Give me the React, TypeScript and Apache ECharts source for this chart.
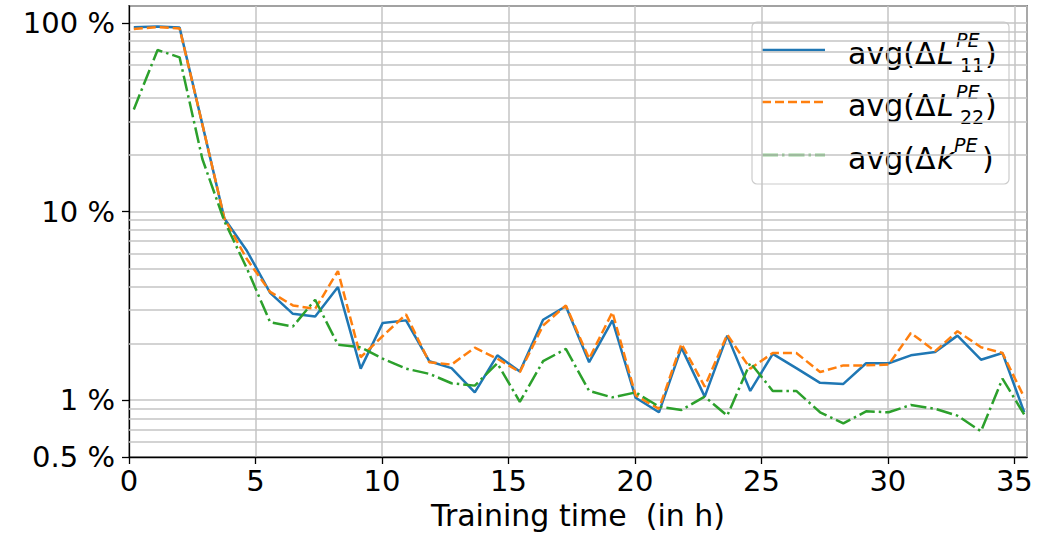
import React, { useEffect, useRef } from "react";
import * as echarts from "echarts";

// Training time of each evaluation (hours)
const hours = [
  0.19, 1.13, 2.0, 2.9, 3.77, 4.66, 5.58, 6.48, 7.36, 8.26, 9.16, 10.03, 10.95, 11.87,
  12.75, 13.67, 14.56, 15.45, 16.37, 17.27, 18.19, 19.11, 20.03, 20.95, 21.84, 22.76,
  23.65, 24.56, 25.45, 26.38, 27.32, 28.24, 29.14, 30.03, 30.91, 31.87, 32.75, 33.68,
  34.53, 35.39,
];

// Average relative errors in percent
const avgL11 = [
  94.9, 95.7, 94.5, 29, 9.2, 6.2, 3.71, 2.87, 2.78, 3.98, 1.47, 2.57, 2.65, 1.61, 1.48,
  1.1, 1.73, 1.42, 2.67, 3.15, 1.59, 2.65, 1.03, 0.863, 1.9, 1.045, 2.2, 1.12, 1.76, 1.48,
  1.236, 1.22, 1.57, 1.57, 1.73, 1.8, 2.2, 1.64, 1.78, 0.863,
];
const avgL22 = [
  93, 95, 93.5, 29, 9.2, 5.6, 3.75, 3.18, 3.05, 4.84, 1.69, 2.19, 2.85, 1.59, 1.545, 1.9,
  1.66, 1.41, 2.49, 3.18, 1.66, 2.93, 1.06, 0.9, 1.99, 1.18, 2.23, 1.47, 1.78, 1.78, 1.41,
  1.53, 1.53, 1.545, 2.27, 1.82, 2.32, 1.91, 1.78, 1.035,
];
const avgK = [
  34.8, 71.9, 65.7, 19, 8.9, 5.0, 2.59, 2.46, 3.41, 1.97, 1.91, 1.66, 1.47, 1.38, 1.23,
  1.195, 1.57, 0.98, 1.61, 1.87, 1.12, 1.035, 1.1, 0.925, 0.888, 1.045, 0.828, 1.58, 1.12,
  1.12, 0.863, 0.754, 0.873, 0.863, 0.944, 0.9, 0.828, 0.684, 1.3, 0.84,
];

const xTicks = [0, 5, 10, 15, 20, 25, 30, 35];
const yTickLabels = [0.5, 1, 10, 100];
const yMinorGrid = [0.6, 0.7, 0.8, 0.9, 2, 3, 4, 5, 6, 7, 8, 9, 20, 30, 40, 50, 60, 70, 80, 90];

const BLUE = "#1f77b4";
const ORANGE = "#ff7f0e";
const GREEN = "#2ca02c";
const FONT = "'DejaVu Sans', sans-serif";
const GRID_COLOR = "#c4c4c4";

type Row = { color: string; dash: number[] | "solid"; base: string; sup: string; sub?: string; y: number };

const legendRows: Row[] = [
  { color: BLUE, dash: "solid", base: "L", sup: "PE", sub: "11", y: 50 },
  { color: ORANGE, dash: [9, 4], base: "L", sup: "PE", sub: "22", y: 102 },
  { color: GREEN, dash: [16, 4, 2.5, 4], base: "k", sup: "PE", y: 155 },
];

function legendGraphic() {
  const children: any[] = [
    {
      type: "rect",
      shape: { x: 752, y: 22, width: 257, height: 162, r: 5 },
      style: { fill: "rgba(255,255,255,0.85)", stroke: "#cccccc", lineWidth: 1.2 },
    },
  ];
  const txt = (x: number, y: number, text: string, size: number, italic = false) => ({
    type: "text",
    x,
    y,
    style: {
      text,
      fill: "#000",
      fontSize: size,
      fontFamily: FONT,
      fontStyle: italic ? "italic" : "normal",
      verticalAlign: "middle",
      align: "left",
    },
  });
  legendRows.forEach((r) => {
    children.push({
      type: "line",
      shape: { x1: 762, y1: r.y, x2: 825, y2: r.y },
      style: { stroke: r.color, lineWidth: 2.5, lineDash: r.dash },
    });
    children.push(txt(848, r.y + 3, "avg(Δ", 30));
    children.push(txt(937, r.y + 3, r.base, 30, true));
    const supX = r.base === "L" ? 956 : 954;
    children.push(txt(supX, r.y - 10, r.sup, 19, true));
    if (r.sub) children.push(txt(960, r.y + 15, r.sub, 19));
    children.push(txt(r.sub ? 985 : 982, r.y + 3, ")", 30));
  });
  return [{ type: "group", children }];
}

export default function App() {
  const ref = useRef<HTMLDivElement>(null);

  useEffect(() => {
    if (!ref.current) return;
    const chart = echarts.init(ref.current, undefined, { renderer: "svg" });

    const lineSeries = (name: string, vals: number[], color: string, dash: any) => ({
      name,
      type: "line",
      data: hours.map((h, i) => [h, vals[i]]),
      showSymbol: false,
      symbol: "none",
      z: 5,
      lineStyle: { color, width: 2.5, type: dash },
      itemStyle: { color },
    });

    chart.setOption({
      animation: false,
      backgroundColor: "#ffffff",
      textStyle: { fontFamily: FONT },
      grid: {
        left: 129,
        right: 29,
        top: 6,
        bottom: 80,
        show: true,
        borderColor: "#000",
        borderWidth: 1.3,
        backgroundColor: "transparent",
      },
      xAxis: {
        type: "value",
        min: 0,
        max: 35.5,
        interval: 5,
        name: "Training time  (in h)",
        nameLocation: "middle",
        nameGap: 43,
        nameTextStyle: { fontSize: 30, color: "#000", fontFamily: FONT },
        axisLine: { show: true, lineStyle: { color: "#000", width: 1.3 } },
        axisTick: { show: true, length: 7, lineStyle: { color: "#000", width: 1.3 } },
        axisLabel: {
          fontSize: 29,
          color: "#000",
          fontFamily: FONT,
          margin: 9,
          showMaxLabel: false,
          formatter: (v: number) => (xTicks.includes(v) ? String(v) : ""),
        },
        splitLine: { show: true, lineStyle: { color: GRID_COLOR, width: 1.5 } },
      },
      yAxis: {
        type: "log",
        logBase: 10,
        min: 0.5,
        max: 123,
        axisLine: { show: true, lineStyle: { color: "#000", width: 1.3 } },
        axisTick: { show: true, length: 7, lineStyle: { color: "#000", width: 1.3 } },
        axisLabel: {
          fontSize: 29,
          color: "#000",
          fontFamily: FONT,
          margin: 14,
          showMaxLabel: false,
          formatter: (v: number) => {
            const hit = yTickLabels.find((t) => Math.abs(t - v) / t < 1e-6);
            return hit !== undefined ? `${hit} %` : "";
          },
        },
        splitLine: { show: true, lineStyle: { color: GRID_COLOR, width: 1.5 } },
      },
      series: [
        {
          name: "minor-grid",
          type: "line",
          data: [],
          z: 1,
          silent: true,
          markLine: {
            silent: true,
            symbol: ["none", "none"],
            label: { show: false },
            lineStyle: { color: GRID_COLOR, width: 1.5, type: "solid" },
            emphasis: { disabled: true },
            data: yMinorGrid.map((v) => ({ yAxis: v })),
          },
        },
        lineSeries("avg(ΔL11)", avgL11, BLUE, "solid"),
        lineSeries("avg(ΔL22)", avgL22, ORANGE, [9, 4]),
        lineSeries("avg(Δk)", avgK, GREEN, [16, 4, 2.5, 4]),
      ],
      graphic: legendGraphic(),
    });

    return () => chart.dispose();
  }, []);

  return (
    <div
      ref={ref}
      style={{ position: "absolute", left: 0, top: 0, width: 1056, height: 537, background: "#fff" }}
    />
  );
}
